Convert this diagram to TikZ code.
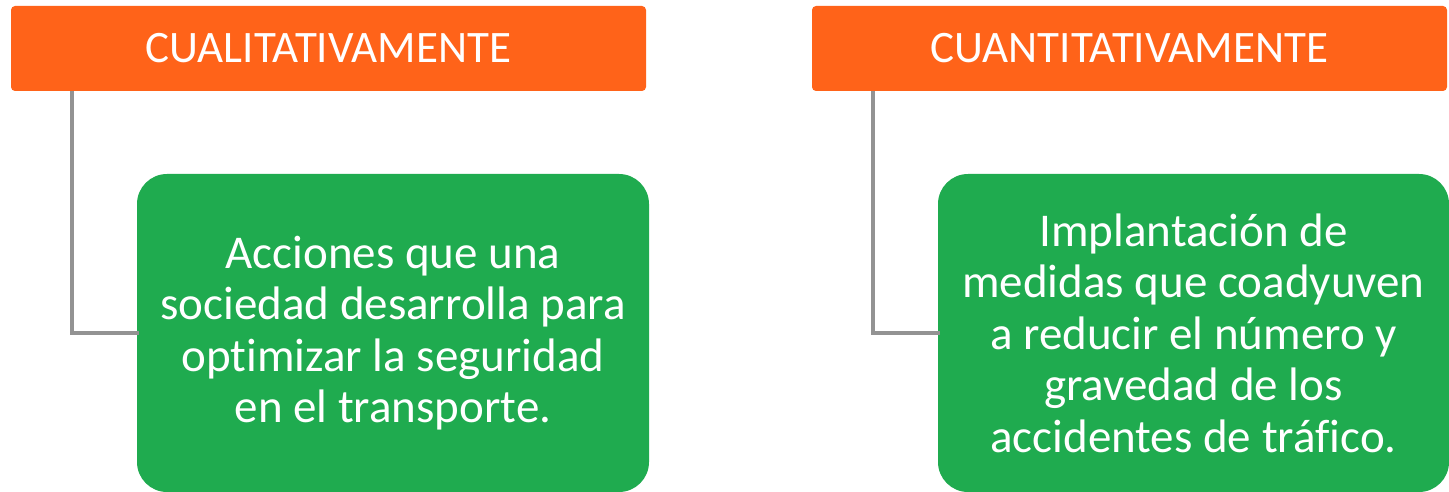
\documentclass[tikz,border=0pt]{standalone}
\usepackage{fontspec}
\setmainfont{Carlito}[Ligatures={NoCommon}]
\definecolor{orng}{HTML}{FF6319}
\definecolor{grn}{HTML}{1FAB4F}
\definecolor{gry}{HTML}{939393}
\begin{document}
\begin{tikzpicture}[x=1pt,y=-1pt,
  head/.style={fill=orng, rounded corners=4pt, draw=none},
  leaf/.style={fill=grn, rounded corners=30pt, draw=none},
  htext/.style={text=white, font=\fontsize{45}{50}\selectfont, inner sep=0pt},
  ltext/.style={text=white, font=\fontsize{47}{51.5}\selectfont, align=center, inner sep=0pt},
  conn/.style={draw=gry, line width=4pt}]
\useasboundingbox (0,0) rectangle (1449,492);
% left
\path[head] (11,6) rectangle (646,91);
\node[htext] (h1) at (328.5,48.5) {CUALITATIVAMENTE};
\coordinate (h1b) at (72,91);
\path[leaf] (137,174) rectangle (649,492);
\node[ltext] (l1) at (393,333) {Acciones que una\\sociedad desarrolla para\\optimizar la seguridad\\en el transporte.};
\coordinate (l1w) at (139,333);
\draw[conn] (h1b) |- (l1w);
% right
\path[head] (812,6) rectangle (1447,91);
\node[htext] (h2) at (1129.5,48.5) {CUANTITATIVAMENTE};
\coordinate (h2b) at (873,91);
\path[leaf] (938,174) rectangle (1449,492);
\node[ltext] (l2) at (1193.5,333) {Implantación de\\medidas que coadyuven\\a reducir el número y\\gravedad de los\\accidentes de tráfico.};
\coordinate (l2w) at (940,333);
\draw[conn] (h2b) |- (l2w);
\end{tikzpicture}
\end{document}
